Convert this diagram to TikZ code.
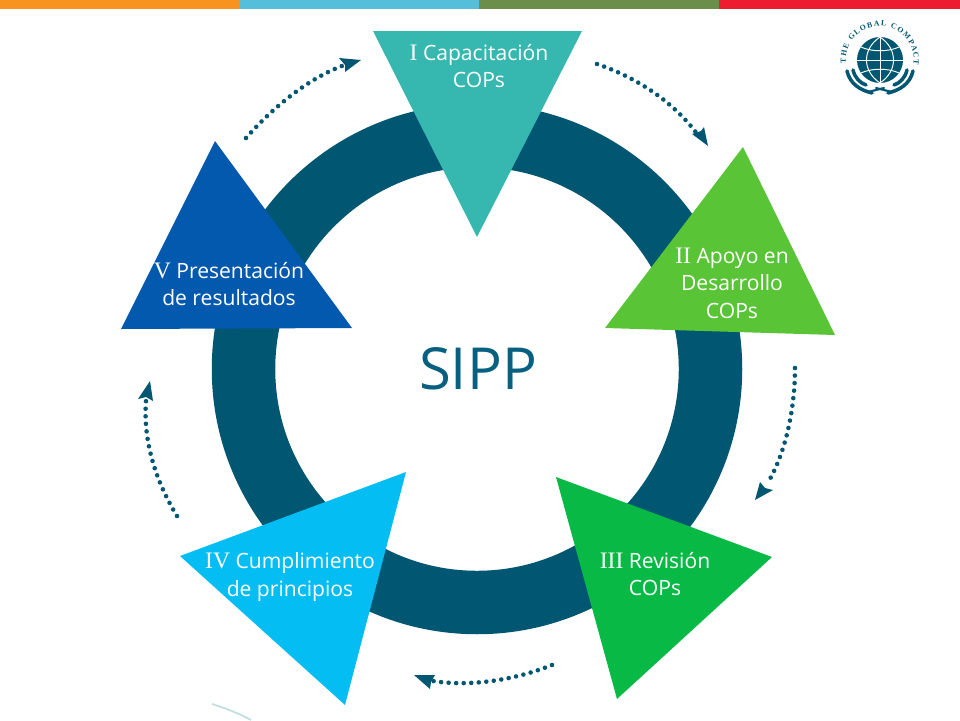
\documentclass[tikz,border=0pt]{standalone}
\usepackage{xcolor}
\usepackage{fontspec}
\setmainfont{Open Sans}
\newfontfamily\numfont[Scale=1.12]{Liberation Serif}
\newfontfamily\logofont{Liberation Serif}
\usetikzlibrary{decorations.text}

\definecolor{ringblue}{HTML}{015672}
\definecolor{sippblue}{HTML}{07607F}
\definecolor{trione}{HTML}{36B8B0}
\definecolor{tritwo}{HTML}{58C436}
\definecolor{trithree}{HTML}{08B945}
\definecolor{trifour}{HTML}{04BDF2}
\definecolor{trifive}{HTML}{0359AE}
\definecolor{barone}{HTML}{F7931E}
\definecolor{bartwo}{HTML}{55BEDB}
\definecolor{barthree}{HTML}{6B8E4A}
\definecolor{barfour}{HTML}{ED1C2E}

\tikzset{
    steplabel/.style={text=white,align=center,font=\fontsize{12pt}{15.6pt}\selectfont,inner sep=0pt},
    dotarrow/.style={ringblue,line width=2.6pt,line cap=round,dash pattern=on 0pt off 4.3pt},
    arrowtip/.style={fill=ringblue,draw=none},
    laurel/.style={ringblue,line cap=round},
}

\begin{document}
\begin{tikzpicture}[x=0.02cm,y=-0.02cm]
    \useasboundingbox (0,0) rectangle (960,720);

    % colour bar on top
    \fill[barone] (0,0) rectangle (240,9);
    \fill[bartwo] (240,0) rectangle (479,9);
    \fill[barthree] (479,0) rectangle (719,9);
    \fill[barfour] (719,0) rectangle (960,9);

    % ring
    \coordinate (centre) at (477,369);
    \draw[ringblue,line width=1.27cm] (centre) circle (233.5);
    \node (sipp) at (478,369) [text=sippblue,font=\fontsize{33pt}{40pt}\selectfont,inner sep=0pt] {SIPP};

    % triangles
    \fill[trione] (373,31) -- (582,31) -- (477,237) -- cycle;
    \fill[tritwo] (743,147) -- (835,335) -- (605,328) -- cycle;
    \fill[trithree] (556,477) -- (772,557) -- (617,699) -- cycle;
    \fill[trifour] (406,472) -- (345,705) -- (180,556) -- cycle;
    \fill[trifive] (215,141) -- (352,328) -- (121,329) -- cycle;

    % labels
    \node (capacitacion) at (479,66) [steplabel] {{\numfont I} Capacitación\\COPs};
    \node (apoyo) at (732,283) [steplabel] {{\numfont II} Apoyo en\\Desarrollo\\COPs};
    \node (revision) at (655,574) [steplabel] {{\numfont III} Revisión\\COPs};
    \node (cumplimiento) at (290,577) [steplabel] {{\numfont IV} Cumplimiento\\de principios};
    \node (presentacion) at (229,284) [steplabel] {{\numfont V} Presentación\\de resultados};

    % dotted arrows between the steps
    \coordinate (a1) at (597,64);
    \coordinate (a2) at (698,135);
    \draw[dotarrow] (a1) .. controls (635,77) and (672,100) .. (a2);
    \fill[arrowtip] (708,146) -- (692,134) -- (701,131) -- (704,127) -- cycle;

    \coordinate (b1) at (795,368);
    \coordinate (b2) at (767,484);
    \draw[dotarrow] (b1) .. controls (795,410) and (785,455) .. (b2);
    \fill[arrowtip] (755,500) -- (760,482) -- (765,488) -- (773,490) -- cycle;

    \coordinate (c1) at (552,665);
    \coordinate (c2) at (433,681);
    \draw[dotarrow] (c1) .. controls (515,680) and (470,687) .. (c2);
    \fill[arrowtip] (414,675) -- (435,675) -- (431,682) -- (430,689) -- cycle;

    \coordinate (d1) at (177,516);
    \coordinate (d2) at (146,401);
    \draw[dotarrow] (d1) .. controls (155,480) and (143,440) .. (d2);
    \fill[arrowtip] (150,381) -- (153,401) -- (146,397) -- (138,399) -- cycle;

    \coordinate (e1) at (246,138);
    \coordinate (e2) at (342,66);
    \draw[dotarrow] (e1) .. controls (275,105) and (310,78) .. (e2);
    \fill[arrowtip] (361,60) -- (345,72) -- (345,65) -- (339,58) -- cycle;

    % logo
    \coordinate (globe) at (880,60);
    \fill[ringblue] (globe) circle (23);
    \begin{scope}[white,line width=0.55pt]
        \draw (880,37) -- (880,83);
        \draw (857,60) -- (903,60);
        \draw (880,37) .. controls (862,49) and (862,71) .. (880,83);
        \draw (880,37) .. controls (898,49) and (898,71) .. (880,83);
        \draw (861,47) .. controls (871,52) and (889,52) .. (899,47);
        \draw (861,73) .. controls (871,68) and (889,68) .. (899,73);
    \end{scope}
    \path[decorate,decoration={text along path,text align=fit to path,
        text={|\logofont\bfseries\fontsize{4.4pt}{5pt}\selectfont\color{ringblue}|THE GLOBAL COMPACT}}]
        (846,63) arc[start angle=175,end angle=368,radius=34];
    \draw[laurel,line width=2pt] (847,71) .. controls (850,84) and (860,90) .. (872,93);
    \draw[laurel,line width=2pt] (853,70) .. controls (855,78) and (860,83) .. (866,85);
    \draw[laurel,line width=2pt] (913,71) .. controls (910,84) and (900,90) .. (888,93);
    \draw[laurel,line width=2pt] (907,70) .. controls (905,78) and (900,83) .. (894,85);
    \draw[laurel,line width=1.2pt] (868,92) -- (884,88);
    \draw[laurel,line width=1.2pt] (892,92) -- (876,88);

    % faint arc at the bottom
    \draw[teal!25,line width=1pt] (212,704) .. controls (225,708) and (238,713) .. (251,720);
\end{tikzpicture}
\end{document}
